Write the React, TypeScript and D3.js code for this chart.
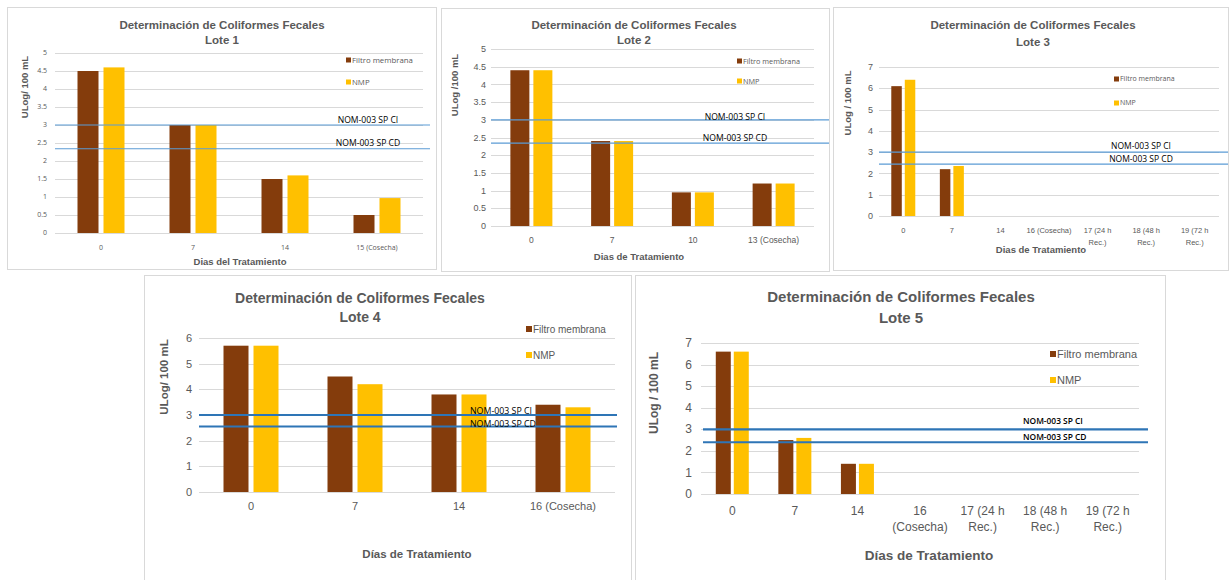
import React from "react";
import * as d3 from "d3";

// ---- data ----
const series = ["Filtro membrana", "NMP"];
const colors = ["#843c0c", "#ffc000"];
const refNames = ["NOM-003 SP CI", "NOM-003 SP CD"];

const lote1Dias = ["0", "7", "14", "15 (Cosecha)"];
const lote1Filtro = [4.5, 3.0, 1.5, 0.5];
const lote1NMP = [4.6, 3.0, 1.6, 0.97];
const lote1Ref = [3.0, 2.34];
const lote1Ticks = [0, 0.5, 1, 1.5, 2, 2.5, 3, 3.5, 4, 4.5, 5];

const lote2Dias = ["0", "7", "10", "13 (Cosecha)"];
const lote2Filtro = [4.4, 2.4, 0.95, 1.2];
const lote2NMP = [4.4, 2.4, 0.95, 1.2];
const lote2Ref = [3.0, 2.34];
const lote2Ticks = [0, 0.5, 1, 1.5, 2, 2.5, 3, 3.5, 4, 4.5, 5];

const lote3Dias = ["0", "7", "14", "16 (Cosecha)", "17 (24 h\nRec.)", "18 (48 h\nRec.)", "19 (72 h\nRec.)"];
const lote3Filtro = [6.1, 2.2, null, null, null, null, null];
const lote3NMP = [6.4, 2.35, null, null, null, null, null];
const lote3Ref = [3.0, 2.44];
const lote3Ticks = [0, 1, 2, 3, 4, 5, 6, 7];

const lote4Dias = ["0", "7", "14", "16 (Cosecha)"];
const lote4Filtro = [5.7, 4.5, 3.8, 3.4];
const lote4NMP = [5.7, 4.2, 3.8, 3.3];
const lote4Ref = [3.0, 2.55];
const lote4Ticks = [0, 1, 2, 3, 4, 5, 6];

const lote5Dias = ["0", "7", "14", "16\n(Cosecha)", "17 (24 h\nRec.)", "18 (48 h\nRec.)", "19 (72 h\nRec.)"];
const lote5Filtro = [6.6, 2.5, 1.4, null, null, null, null];
const lote5NMP = [6.6, 2.6, 1.4, null, null, null, null];
const lote5Ref = [3.0, 2.4];
const lote5Ticks = [0, 1, 2, 3, 4, 5, 6, 7];

const ARIAL = "'Liberation Sans', Arial, sans-serif";
const NARROW = "'Liberation Sans Narrow', 'Liberation Sans', Arial, sans-serif";
const CALIBRI = "'Open Sans', 'Noto Sans', sans-serif";
const GREY = "#595959";

type Cfg = {
  lote: string;
  dias: string[];
  values: (number | null)[][];
  refs: number[];
  ticks: number[];
  yTitle: string;
  xTitle: string;
  box: [number, number, number, number];
  plotX: [number, number];
  plotY: [number, number];
  barW: number;
  gap: number;
  title: { x: number; y1: number; y2: number; size: number; font: string };
  tickFont: { x: number; size: number; font: string };
  xLab: { y: number; size: number; font: string; lh: number };
  xTitlePos: { x: number; y: number; size: number; font: string };
  yTitlePos: { x: number; y: number; size: number; font: string };
  legend: { x: number; y1: number; y2: number; sq: number; size: number; font: string };
  refLab: { x: number; y1: number; y2: number; size: number; anchor: string; weight?: number };
  refLine: { x1: number; x2: number; w: number; color: string };
};

function Panel({ c }: { c: Cfg }) {
  const x = d3.scaleBand<string>().domain(c.dias).range(c.plotX).paddingInner(0).paddingOuter(0);
  const y = d3.scaleLinear().domain([0, d3.max(c.ticks) as number]).range(c.plotY);
  const [bx0, by0, bx1, by1] = c.box;
  return (
    <g>
      <rect x={bx0 + 0.5} y={by0 + 0.5} width={bx1 - bx0} height={by1 - by0} fill="#fff" stroke="#d9d9d9" />
      {/* gridlines and y tick labels */}
      {c.ticks.map((t) => (
        <g key={t}>
          <line x1={c.plotX[0]} x2={c.plotX[1]} y1={Math.round(y(t)) + 0.5} y2={Math.round(y(t)) + 0.5} stroke="#d9d9d9" />
          <text x={c.tickFont.x} y={y(t)} dy="0.35em" textAnchor="end" fontFamily={c.tickFont.font} fontSize={c.tickFont.size} fill={GREY}>
            {String(t)}
          </text>
        </g>
      ))}
      {/* bars */}
      {c.dias.map((d, i) => {
        const cx = (x(d) as number) + x.bandwidth() / 2;
        return c.values.map((vals, s) => {
          const v = vals[i];
          if (v == null) return null;
          const bx = s === 0 ? cx - c.gap / 2 - c.barW : cx + c.gap / 2;
          return <rect key={d + s} x={bx} y={y(v)} width={c.barW} height={y(0) - y(v)} fill={colors[s]} />;
        });
      })}
      {/* x labels */}
      {c.dias.map((d) => {
        const cx = (x(d) as number) + x.bandwidth() / 2;
        return (
          <text key={d} x={cx} y={c.xLab.y} textAnchor="middle" fontFamily={c.xLab.font} fontSize={c.xLab.size} fill={GREY}>
            {d.split("\n").map((ln, k) => (
              <tspan key={k} x={cx} dy={k === 0 ? "0.35em" : c.xLab.lh}>{ln}</tspan>
            ))}
          </text>
        );
      })}
      {/* reference limits */}
      {c.refs.map((r, k) => (
        <line key={"r" + k} x1={c.refLine.x1} x2={c.refLine.x2} y1={y(r)} y2={y(r)} stroke={c.refLine.color} strokeWidth={c.refLine.w} />
      ))}
      {refNames.map((n, k) => (
        <text key={n} x={c.refLab.x} y={k === 0 ? c.refLab.y1 : c.refLab.y2} dy="0.35em" textAnchor={c.refLab.anchor as any}
          fontFamily={CALIBRI} fontSize={c.refLab.size} fontWeight={c.refLab.weight || 400} fill="#000">
          {n}
        </text>
      ))}
      {/* legend */}
      {series.map((s, k) => {
        const ly = k === 0 ? c.legend.y1 : c.legend.y2;
        return (
          <g key={s}>
            <rect x={c.legend.x} y={ly - c.legend.sq / 2} width={c.legend.sq} height={c.legend.sq} fill={colors[k]} />
            <text x={c.legend.x + c.legend.sq + 1} y={ly} dy="0.35em" fontFamily={c.legend.font} fontSize={c.legend.size} fill={GREY}>
              {s}
            </text>
          </g>
        );
      })}
      {/* titles */}
      <text x={c.title.x} y={c.title.y1} dy="0.35em" textAnchor="middle" fontFamily={c.title.font} fontWeight="bold" fontSize={c.title.size} fill={GREY}>
        Determinación de Coliformes Fecales
      </text>
      <text x={c.title.x} y={c.title.y2} dy="0.35em" textAnchor="middle" fontFamily={c.title.font} fontWeight="bold" fontSize={c.title.size} fill={GREY}>
        {c.lote}
      </text>
      <text x={c.xTitlePos.x} y={c.xTitlePos.y} dy="0.35em" textAnchor="middle" fontFamily={c.xTitlePos.font} fontWeight="bold" fontSize={c.xTitlePos.size} fill={GREY}>
        {c.xTitle}
      </text>
      <text transform={`translate(${c.yTitlePos.x},${c.yTitlePos.y}) rotate(-90)`} dy="0.35em" textAnchor="middle" fontFamily={c.yTitlePos.font}
        fontWeight="bold" fontSize={c.yTitlePos.size} fill={GREY}>
        {c.yTitle}
      </text>
    </g>
  );
}

const panels: Cfg[] = [
  {
    lote: "Lote 1", dias: lote1Dias, values: [lote1Filtro, lote1NMP], refs: lote1Ref, ticks: lote1Ticks,
    yTitle: "ULog/ 100 mL", xTitle: "Dias del Tratamiento",
    box: [7, 7, 436, 269], plotX: [55, 423], plotY: [233, 53], barW: 21, gap: 5,
    title: { x: 222, y1: 25, y2: 40, size: 11.5, font: ARIAL },
    tickFont: { x: 47, size: 7, font: CALIBRI },
    xLab: { y: 248, size: 7, font: CALIBRI, lh: 9 },
    xTitlePos: { x: 240, y: 262, size: 9.5, font: ARIAL },
    yTitlePos: { x: 25, y: 87, size: 9.5, font: ARIAL },
    legend: { x: 346, y1: 60, y2: 82, sq: 5, size: 7.8, font: CALIBRI },
    refLab: { x: 368, y1: 120, y2: 143, size: 8.6, anchor: "middle" },
    refLine: { x1: 55, x2: 430, w: 1.2, color: "#5b9bd5" },
  },
  {
    lote: "Lote 2", dias: lote2Dias, values: [lote2Filtro, lote2NMP], refs: lote2Ref, ticks: lote2Ticks,
    yTitle: "ULog /100 mL", xTitle: "Dias de Tratamiento",
    box: [441, 8, 829, 271], plotX: [491, 814], plotY: [226, 49], barW: 19, gap: 4,
    title: { x: 634, y1: 25, y2: 40, size: 11.5, font: ARIAL },
    tickFont: { x: 486, size: 9, font: ARIAL },
    xLab: { y: 240, size: 8.5, font: ARIAL, lh: 10 },
    xTitlePos: { x: 639, y: 257, size: 9.5, font: ARIAL },
    yTitlePos: { x: 455, y: 85, size: 9.5, font: ARIAL },
    legend: { x: 737, y1: 61, y2: 81, sq: 5, size: 7.3, font: CALIBRI },
    refLab: { x: 735, y1: 117, y2: 138, size: 8.6, anchor: "middle" },
    refLine: { x1: 491, x2: 829, w: 1.2, color: "#5b9bd5" },
  },
  {
    lote: "Lote 3", dias: lote3Dias, values: [lote3Filtro, lote3NMP], refs: lote3Ref, ticks: lote3Ticks,
    yTitle: "ULog / 100 mL", xTitle: "Dias de Tratamiento",
    box: [833, 7, 1228, 270], plotX: [879, 1219], plotY: [216, 67], barW: 10.5, gap: 3,
    title: { x: 1033, y1: 25, y2: 42, size: 11.5, font: ARIAL },
    tickFont: { x: 873, size: 9, font: ARIAL },
    xLab: { y: 230, size: 7.5, font: NARROW, lh: 12 },
    xTitlePos: { x: 1041, y: 250, size: 9.5, font: ARIAL },
    yTitlePos: { x: 848, y: 103, size: 9.5, font: ARIAL },
    legend: { x: 1114, y1: 79, y2: 103, sq: 5, size: 7, font: CALIBRI },
    refLab: { x: 1141, y1: 146, y2: 159, size: 8.5, anchor: "middle" },
    refLine: { x1: 879, x2: 1228, w: 1.2, color: "#5b9bd5" },
  },
  {
    lote: "Lote 4", dias: lote4Dias, values: [lote4Filtro, lote4NMP], refs: lote4Ref, ticks: lote4Ticks,
    yTitle: "ULog/ 100 mL", xTitle: "Días de Tratamiento",
    box: [144, 275, 631, 590], plotX: [199, 615], plotY: [492, 338], barW: 25, gap: 5,
    title: { x: 360, y1: 298, y2: 317, size: 14, font: ARIAL },
    tickFont: { x: 192, size: 11, font: ARIAL },
    xLab: { y: 506, size: 11, font: ARIAL, lh: 13 },
    xTitlePos: { x: 417, y: 554, size: 11.5, font: ARIAL },
    yTitlePos: { x: 164, y: 377, size: 11.5, font: ARIAL },
    legend: { x: 526, y1: 329, y2: 355, sq: 6, size: 10, font: ARIAL },
    refLab: { x: 470, y1: 411, y2: 424, size: 8.8, anchor: "start" },
    refLine: { x1: 199, x2: 617, w: 2, color: "#2e75b6" },
  },
  {
    lote: "Lote 5", dias: lote5Dias, values: [lote5Filtro, lote5NMP], refs: lote5Ref, ticks: lote5Ticks,
    yTitle: "ULog / 100 mL", xTitle: "Días de Tratamiento",
    box: [635, 275, 1165, 590], plotX: [701, 1139], plotY: [494, 343], barW: 15, gap: 3,
    title: { x: 901, y1: 297, y2: 318, size: 15, font: NARROW },
    tickFont: { x: 692, size: 12, font: NARROW },
    xLab: { y: 511, size: 12, font: NARROW, lh: 16 },
    xTitlePos: { x: 929, y: 555, size: 13.5, font: NARROW },
    yTitlePos: { x: 654, y: 393, size: 12, font: ARIAL },
    legend: { x: 1050, y1: 354, y2: 380, sq: 6, size: 11, font: NARROW },
    refLab: { x: 1023, y1: 421, y2: 437, size: 8.4, anchor: "start", weight: 600 },
    refLine: { x1: 703, x2: 1148, w: 2.2, color: "#2e75b6" },
  },
];

export default function App() {
  return (
    <svg width={1232} height={580} style={{ position: "absolute", left: 0, top: 0, display: "block" }}>
      <rect width={1232} height={580} fill="#fff" />
      {panels.map((c) => (
        <Panel key={c.lote} c={c} />
      ))}
    </svg>
  );
}
